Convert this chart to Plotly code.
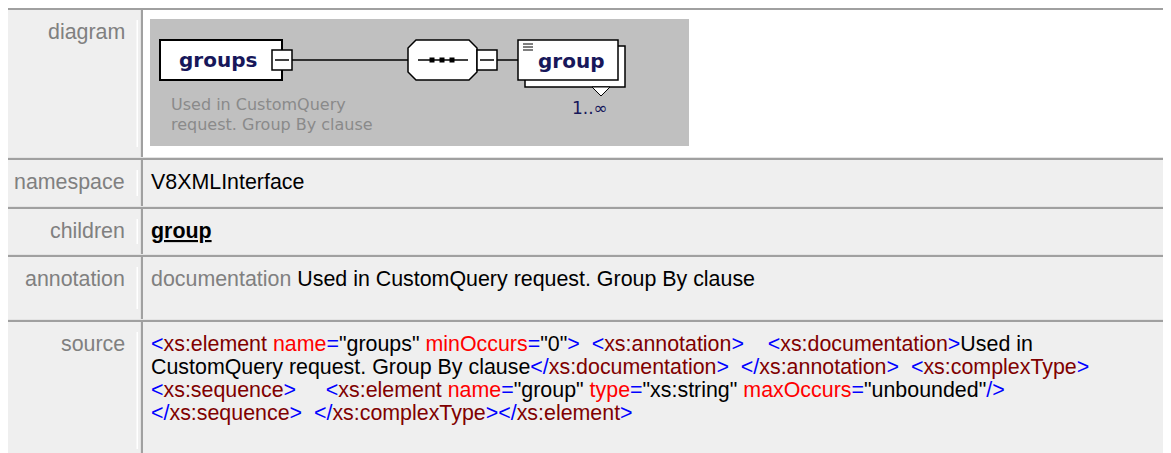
import re
import plotly.graph_objects as go

# ---------------- content ----------------
row_labels = ["diagram", "namespace", "children", "annotation", "source"]
namespace_value = "V8XMLInterface"
children_values = ["group"]
annotation_key = "documentation"
annotation_value = "Used in CustomQuery request. Group By clause"
root_element = "groups"
child_element = "group"
child_cardinality = "1..\u221e"
root_description = ["Used in CustomQuery", "request. Group By clause"]
source_lines = [
    '<xs:element name="groups" minOccurs="0">  <xs:annotation>    <xs:documentation>Used in',
    'CustomQuery request. Group By clause</xs:documentation>  </xs:annotation>  <xs:complexType>',
    '<xs:sequence>     <xs:element name="group" type="xs:string" maxOccurs="unbounded"/>',
    '</xs:sequence>  </xs:complexType></xs:element>',
]

# ---------------- layout constants ----------------
W, H = 1171, 453
OFF = 8  # page body margin; figure is placed at (8, 8)
ROW_TOPS = [8, 158, 207, 255, 320]
ROW_BOTTOM = 460
LABEL_RIGHT = 126
VALUE_LEFT = 150
CELL_SPLIT = 141
FONT = "Arial, Liberation Sans, sans-serif"
DFONT = "DejaVu Sans, Verdana, sans-serif"
FS = 21.4
LINE_H = 23
BASE_OFF = 31
BORDER = "#a0a0a0"
CELL_BG = "#efefef"
NAVY = "#17175a"
BLUE, DRED, RED, BLACK = "#0000ff", "#800000", "#ff0000", "#000000"


def mid(baseline, fs):
    return baseline - 0.35 * fs


shapes = []
annotations = []


def rect(x0, y0, x1, y1, fill, line=None, lw=0, layer="above"):
    d = dict(type="rect", xref="x", yref="y", x0=x0, y0=y0, x1=x1, y1=y1,
             fillcolor=fill, layer=layer)
    d["line"] = dict(color=line or fill, width=lw)
    shapes.append(d)


def seg(x0, y0, x1, y1, color, w=1):
    shapes.append(dict(type="line", xref="x", yref="y", x0=x0, y0=y0, x1=x1,
                       y1=y1, line=dict(color=color, width=w)))


def text(x, baseline, s, color, fs=FS, fam=FONT, anchor="left"):
    annotations.append(dict(x=x, y=mid(baseline, fs), xref="x", yref="y",
                            text=s, showarrow=False, xanchor=anchor,
                            yanchor="middle", borderpad=0,
                            font=dict(family=fam, size=fs, color=color)))


# ---------------- table ----------------
bottoms = ROW_TOPS[1:] + [ROW_BOTTOM]
rect(3, 6, W + 5, ROW_BOTTOM, "#e4e4e4")
for i, (top, bot) in enumerate(zip(ROW_TOPS, bottoms)):
    rect(5, top, CELL_SPLIT - 1, bot - 1, CELL_BG)
    rect(CELL_SPLIT, top, W + 5, bot - 1, "#ffffff" if i == 0 else CELL_BG)
    # inset borders: dark top/left
    rect(5, top, W + 5, top + 2, BORDER)
    rect(5, top, 6.5, bot - 1, "#b4b4b4")
    rect(CELL_SPLIT, top, CELL_SPLIT + 2, bot - 1, BORDER)
    # white highlight on the right side of cells
    rect(136.5, top + 12, 138, bot - 11, "#ffffff")
    rect(1167.5, top + 10, 1169, bot - 12, "#ffffff")

# row labels
for lab, top in zip(row_labels, ROW_TOPS):
    text(LABEL_RIGHT, top + BASE_OFF, lab, "#808080", anchor="right")

# namespace
text(VALUE_LEFT, ROW_TOPS[1] + BASE_OFF, namespace_value, BLACK)
# children
text(VALUE_LEFT, ROW_TOPS[2] + BASE_OFF,
     "<b><u>" + "</u></b>, <b><u>".join(children_values) + "</u></b>", BLACK)
# annotation
text(VALUE_LEFT, ROW_TOPS[3] + BASE_OFF,
     f'<span style="color:#808080">{annotation_key}</span> {annotation_value}', BLACK)


# source (XML syntax colouring)
def colorize(line):
    out = []
    in_tag = False
    expect_name = False
    for tok in re.findall(r'</|/>|<|>|=|"[^"]*"|\s+|[^<>="\s/]+|/', line):
        if tok in ("<", "</"):
            c = BLUE
            in_tag, expect_name = True, True
        elif tok in (">", "/>"):
            c = BLUE
            in_tag = False
        elif tok == "=":
            c = BLUE
        elif tok.isspace():
            out.append("\u00a0" * len(tok))
            continue
        elif in_tag and expect_name:
            c = DRED
            expect_name = False
        elif in_tag and tok.startswith('"'):
            c = BLACK
        elif in_tag:
            c = RED
        else:
            c = BLACK
        t = tok.replace("<", "&lt;").replace(">", "&gt;")
        out.append(f'<span style="color:{c}">{t}</span>')
    return "".join(out)


for k, ln in enumerate(source_lines):
    text(VALUE_LEFT, ROW_TOPS[4] + BASE_OFF + k * LINE_H, colorize(ln), BLACK)

# ---------------- diagram ----------------
rect(150, 19, 689, 146, "#c0c0c0")
CY = 60
# root element box
rect(160, 40, 282, 80, "#ffffff", "#000000", 2)
text(178, 67, f"<b>{root_element}</b>", NAVY, fs=20, fam=DFONT)
# collapse box
rect(272, 50, 292, 70, "#ffffff", "#000000", 1.5)
seg(275, CY, 289, CY, "#000000", 1.5)
seg(292, CY, 408, CY, "#000000", 1.5)
# sequence compositor (octagon)
x0, x1, y0, y1, c = 408, 477, 40, 80, 8
shapes.append(dict(type="path", xref="x", yref="y",
                   path=f"M{x0+c},{y0} L{x1-c},{y0} L{x1},{y0+c} L{x1},{y1-c} "
                        f"L{x1-c},{y1} L{x0+c},{y1} L{x0},{y1-c} L{x0},{y0+c} Z",
                   fillcolor="#ffffff", line=dict(color="#000000", width=1.5)))
seg(418, CY, 468, CY, "#000000", 1.5)
for cx in (432, 442, 452):
    rect(cx - 2.5, CY - 2.5, cx + 2.5, CY + 2.5, "#000000")
rect(477, 50, 497, 70, "#ffffff", "#000000", 1.5)
seg(480, CY, 494, CY, "#000000", 1.5)
seg(497, CY, 518, CY, "#000000", 1.5)
# child element (repeating -> stacked boxes)
rect(525, 46, 625, 87, "#ffffff", "#000000", 1.5)
rect(518, 40, 618, 80, "#ffffff", "#000000", 1.5)
for yy in (44, 47, 50):
    seg(523, yy, 533, yy, "#000000", 1)
shapes.append(dict(type="path", xref="x", yref="y",
                   path="M592,87 L610,87 L601,96 Z",
                   fillcolor="#ffffff", line=dict(color="#000000", width=1)))
text(537, 68, f"<b>{child_element}</b>", NAVY, fs=20, fam=DFONT)
text(590, 114, child_cardinality, NAVY, fs=17, fam=DFONT, anchor="center")
# description
for k, ln in enumerate(root_description):
    text(170, 110 + k * 20, ln, "#8a8a8a", fs=16, fam=DFONT)

fig = go.Figure()
fig.update_layout(
    width=W - OFF, height=H - OFF, margin=dict(l=0, r=0, t=0, b=0),
    paper_bgcolor="#ffffff", plot_bgcolor="#ffffff",
    xaxis=dict(range=[OFF, W], visible=False, fixedrange=True),
    yaxis=dict(range=[H, OFF], visible=False, fixedrange=True),
    shapes=shapes, annotations=annotations, showlegend=False,
)
fig.write_html("out.html", config={"displayModeBar": False})
